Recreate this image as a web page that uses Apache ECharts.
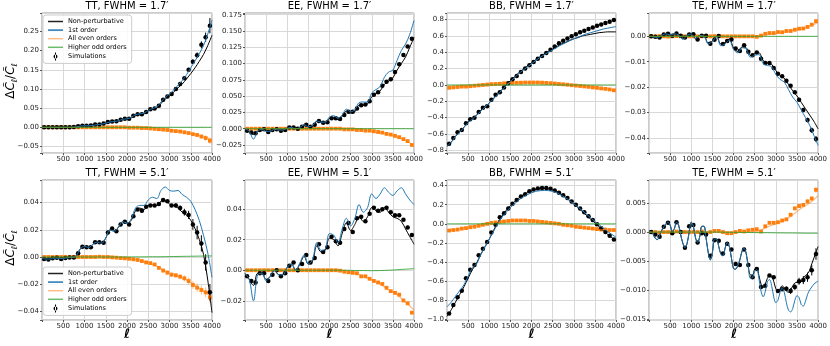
<!DOCTYPE html>
<html>
<head>
<meta charset="utf-8">
<script src="https://cdn.jsdelivr.net/npm/echarts@6/dist/echarts.min.js"></script>
<style>
  html, body { margin: 0; padding: 0; background: #fff; }
  #chart { width: 830px; height: 346px; }
</style>
</head>
<body>
<div id="chart"></div>
<script>
// multipoles
const ellLine = [0,100,200,300,400,500,600,700,800,900,1000,1100,1200,1300,1400,1500,1600,1700,1800,1900,2000,
  2100,2200,2300,2400,2500,2600,2700,2800,2900,3000,3100,3200,3300,3400,3500,3600,3700,3800,3900,4000];
const ellFine = [0,50,100,150,200,250,300,350,400,450,500,550,600,650,700,750,800,850,900,950,1000,
  1050,1100,1150,1200,1250,1300,1350,1400,1450,1500,1550,1600,1650,1700,1750,1800,1850,1900,1950,2000,
  2050,2100,2150,2200,2250,2300,2350,2400,2450,2500,2550,2600,2650,2700,2750,2800,2850,2900,2950,3000,
  3050,3100,3150,3200,3250,3300,3350,3400,3450,3500,3550,3600,3650,3700,3750,3800,3850,3900,3950,4000];
const ellCoarse = [0,200,400,600,800,1000,1200,1400,1600,1800,2000,2200,2400,2600,2800,3000,3200,3400,3600,3800,4000];
const ellBins = [50,150,250,350,450,550,650,750,850,950,1050,1150,1250,1350,1450,1550,1650,1750,1850,1950,
  2050,2150,2250,2350,2450,2550,2650,2750,2850,2950,3050,3150,3250,3350,3450,3550,3650,3750,3850,3950];

// TT, FWHM 1.7'
const tt17NonPert = [0,0,0,0,0,0,0,0,0.001,0.003,0.004,0.004,0.005,0.007,0.008,0.011,0.014,0.015,0.017,0.021,0.022,
  0.025,0.032,0.034,0.036,0.043,0.047,0.05,0.062,0.074,0.082,0.092,0.103,0.113,0.126,0.14,0.155,0.172,0.19,0.213,0.24];
const tt17First = [0,0,0,0,0,0,0,0,0.001,0.003,0.004,0.004,0.005,0.007,0.008,0.011,0.014,0.015,0.017,0.021,0.022,
  0.026,0.033,0.035,0.037,0.044,0.049,0.053,0.066,0.078,0.087,0.097,0.11,0.122,0.137,0.155,0.173,0.192,0.213,0.243,0.28];
const tt17Even = [0,0,0,0,0,0,0,0,0,0,-0.001,-0.001,-0.002,-0.003,-0.005,-0.007,-0.01,-0.013,-0.018,-0.024,-0.032];
const tt17Odd = [0,0,0,0,0,0,0,0,0,0,0,0,0,0,0,0,0,0,0,0,0];
const tt17Sim = [0,0,0,0,0,0,0,0.001,0.003,0.004,0.004,0.005,0.007,0.007,0.010,0.014,0.015,0.016,0.020,0.022,
  0.022,0.030,0.034,0.034,0.040,0.047,0.049,0.056,0.072,0.080,0.087,0.100,0.113,0.128,0.150,0.171,0.188,0.215,0.235,0.265];
const tt17SimErr = [0,0,0,0,0,0,0,0,0,0,0,0,0,0,0,0,0,0,0,0,
  0,0,0,0,0,0,0.001,0.001,0.002,0.002,0.002,0.003,0.003,0.004,0.005,0.006,0.007,0.009,0.012,0.02];
const tt17EvenSim = [0,0,0,0,0,0,0,0,0,0,0,0,0,0,0,0,0,0,0,0,
  -0.001,-0.001,-0.001,-0.002,-0.002,-0.003,-0.004,-0.005,-0.006,-0.007,-0.009,-0.01,-0.011,-0.013,-0.015,-0.018,-0.02,-0.024,-0.028,-0.035];
const tt17EvenSimErr = [0,0,0,0,0,0,0,0,0,0,0,0,0,0,0,0,0,0,0,0,
  0,0,0,0,0,0,0,0,0.001,0.001,0.0015,0.002,0.002,0.003,0.003,0.004,0.005,0.006,0.007,0.008];

// EE, FWHM 1.7'
const ee17NonPert = [0,-0.004,-0.009,-0.004,-0.001,-0.003,-0.004,-0.001,-0.002,-0.002,0.001,0.002,0,0.002,0.006,0.003,0.004,
  0.011,0.010,0.009,0.016,0.017,0.014,0.019,0.027,0.024,0.026,0.036,0.036,0.038,0.049,0.054,0.058,0.068,0.073,0.078,0.090,0.100,0.110,0.125,0.140];
const ee17First = [0,-0.004,-0.016,-0.004,-0.001,-0.004,-0.004,-0.001,-0.002,-0.002,0.001,0.002,0,0.002,0.006,0.003,0.005,
  0.012,0.010,0.010,0.018,0.020,0.016,0.021,0.030,0.026,0.029,0.040,0.041,0.041,0.055,0.060,0.065,0.079,0.087,0.090,0.105,0.120,0.130,0.145,0.166];
const ee17Even = [0,0,0,0,0,0,0,0,0,0,0,0,-0.001,-0.001,-0.002,-0.004,-0.006,-0.009,-0.013,-0.018,-0.026];
const ee17Odd = [0,0,0,0,0,0,0,0,0,0,0,0,0,0,0,0,0,0,0,0,0];
const ee17Sim = [-0.003,-0.006,-0.007,-0.002,-0.001,-0.005,-0.002,-0.001,-0.003,-0.002,0.002,0.002,0,0.003,0.006,0.003,0.006,0.012,0.009,0.010,
  0.016,0.016,0.015,0.021,0.026,0.026,0.031,0.036,0.037,0.042,0.052,0.056,0.066,0.072,0.076,0.087,0.099,0.113,0.126,0.138];
const ee17EvenSim = [0,0,0,0,0,0,0,0,0,0,0,0,0,0,0,0,0,0,0,0,0,0,0,
  -0.001,-0.001,-0.001,-0.002,-0.002,-0.003,-0.003,-0.004,-0.005,-0.006,-0.008,-0.009,-0.011,-0.013,-0.016,-0.019,-0.025];

// BB, FWHM 1.7'
const bb17NonPert = [-0.75,-0.70,-0.63,-0.57,-0.52,-0.45,-0.41,-0.37,-0.31,-0.27,-0.22,-0.16,-0.11,-0.06,0.00,0.05,0.10,0.15,0.19,0.23,0.27,
  0.31,0.345,0.38,0.41,0.44,0.47,0.50,0.52,0.545,0.565,0.58,0.60,0.61,0.62,0.63,0.64,0.645,0.65,0.65,0.65];
const bb17First = [-0.75,-0.70,-0.63,-0.58,-0.52,-0.46,-0.42,-0.37,-0.32,-0.27,-0.22,-0.17,-0.12,-0.06,-0.01,0.04,0.09,0.14,0.18,0.22,0.26,
  0.30,0.335,0.37,0.40,0.43,0.46,0.49,0.515,0.54,0.565,0.585,0.605,0.625,0.64,0.655,0.67,0.685,0.695,0.705,0.715];
const bb17Even = [-0.04,-0.03,-0.02,-0.012,-0.002,0.008,0.015,0.02,0.025,0.028,0.03,0.028,0.024,0.016,0.006,-0.004,-0.015,-0.027,-0.04,-0.052,-0.068];
const bb17Odd = [0,0,0,0,0,0,0,0,0,0,0,0,0,0,0,0,0,0,0,0,0];
const bb17Sim = [-0.72,-0.65,-0.58,-0.55,-0.47,-0.42,-0.40,-0.33,-0.28,-0.26,-0.18,-0.12,-0.09,-0.03,0.02,0.07,0.11,0.16,0.20,0.24,
  0.28,0.32,0.355,0.39,0.43,0.47,0.51,0.54,0.57,0.595,0.62,0.645,0.665,0.685,0.705,0.725,0.74,0.76,0.775,0.795];
const bb17EvenSim = [-0.035,-0.03,-0.025,-0.02,-0.02,-0.015,-0.01,-0.005,0,0.005,0.01,0.012,0.015,0.02,0.022,0.025,0.027,0.028,0.03,0.03,
  0.03,0.03,0.028,0.025,0.022,0.018,0.012,0.008,0.003,-0.003,-0.008,-0.013,-0.018,-0.023,-0.03,-0.035,-0.042,-0.048,-0.055,-0.065];

// TE, FWHM 1.7'
const te17NonPert = [0,-0.0002,-0.0006,0.0004,0.001,0.0005,0.001,0.0006,-0.0008,0.0004,0.0009,-0.0008,0.0003,0.0002,-0.0025,-0.0018,0,
  -0.003,-0.0025,-0.001,-0.0045,-0.006,-0.0042,-0.0045,-0.0075,-0.0068,-0.0065,-0.0095,-0.0105,-0.011,-0.0135,-0.0155,-0.0165,-0.019,
  -0.0215,-0.0235,-0.026,-0.0285,-0.031,-0.0335,-0.0365];
const te17First = [0,-0.0002,-0.0006,0.0004,0.001,0.0005,0.001,0.0005,-0.0012,0.0004,0.0009,-0.001,0.0003,0.0001,-0.003,-0.002,-0.0002,
  -0.0037,-0.003,-0.0015,-0.0052,-0.0065,-0.0045,-0.005,-0.0082,-0.0075,-0.0072,-0.0108,-0.0115,-0.012,-0.015,-0.017,-0.018,-0.021,
  -0.024,-0.026,-0.029,-0.032,-0.035,-0.039,-0.043];
const te17Even = [0,0,0,0,0,0,0,0,0,0,0,0,0,0.0002,0.0008,0.0012,0.0017,0.0023,0.003,0.004,0.0055];
const te17Odd = [0,0,0,0,0,0,0,0,0,0,0,0,0,0,0,0,0,0,0,0,0];
const te17Sim = [0,-0.0002,-0.0005,0.0007,0.001,0.0002,0.0011,0.0002,-0.0005,0.0007,0.0008,-0.0012,0.0002,0.0002,-0.0029,-0.0013,0.0001,
  -0.003,-0.0018,-0.0012,-0.0048,-0.0058,-0.0035,-0.0061,-0.0075,-0.0064,-0.0088,-0.0105,-0.0105,-0.0125,-0.0148,-0.0157,-0.0175,
  -0.0195,-0.022,-0.025,-0.029,-0.033,-0.037,-0.0405];
const te17SimErr = [0,0,0,0,0,0,0,0,0,0,0,0,0,0,0,0,0,0,0,0,
  0,0,0,0,0,0,0,0,0,0,0,0,0,0,0.0005,0.0006,0.0008,0.0009,0.001,0.0012];
const te17EvenSim = [0,0,0.0001,0,-0.0001,0,0.0001,0,0,0,0,0,0,0,0,0.0001,0,0,0,0,0,0,0,0,0,-0.0002,
  0.0003,0.001,0.0013,0.0013,0.0017,0.0016,0.0021,0.0021,0.0026,0.003,0.0031,0.0037,0.0046,0.006];

// TT, FWHM 5.1'
const tt51NonPert = [-0.001,-0.0015,-0.0015,-0.0008,-0.001,-0.0012,-0.0005,-0.0003,0.0005,0.006,0.0078,0.007,0.0095,0.011,0.010,0.014,
  0.020,0.019,0.022,0.026,0.025,0.027,0.034,0.036,0.035,0.038,0.0385,0.038,0.041,0.0415,0.039,0.038,0.036,0.033,0.031,0.027,0.021,
  0.013,0.002,-0.017,-0.041];
const tt51First = [-0.001,-0.0015,-0.0015,-0.0008,-0.001,-0.0012,-0.0005,-0.0003,0.0005,0.006,0.0078,0.007,0.0095,0.011,0.010,0.014,
  0.020,0.019,0.022,0.026,0.025,0.028,0.036,0.038,0.038,0.042,0.044,0.043,0.049,0.0515,0.049,0.0485,0.049,0.046,0.044,0.041,0.035,
  0.027,0.016,0.003,-0.015];
const tt51Even = [0,0,0,0,0,0,0,0,0,-0.0005,-0.0012,-0.002,-0.0035,-0.0055,-0.0085,-0.012,-0.014,-0.017,-0.021,-0.025,-0.03];
const tt51Odd = [0,0,0,0,0,0,0,0,0,0,0,0.0001,0.0001,0.0002,0.0002,0.0003,0.0004,0.0005,0.0006,0.0007,0.0008];
const tt51Sim = [-0.0015,-0.0018,-0.001,-0.0005,-0.0015,-0.0008,-0.0004,-0.0003,0.0028,0.0075,0.0072,0.0072,0.0108,0.0108,0.0105,0.018,
  0.021,0.019,0.024,0.026,0.024,0.030,0.035,0.034,0.037,0.038,0.038,0.039,0.042,0.041,0.038,0.038,0.036,0.033,0.031,0.024,0.018,
  0.010,-0.004,-0.026];
const tt51SimErr = [0,0,0,0,0,0,0,0,0,0,0,0,0,0,0,0,0,0,0,0,
  0,0,0,0,0,0,0,0,0,0,0.001,0.0015,0.002,0.0025,0.003,0.004,0.005,0.006,0.006,0.006];
const tt51EvenSim = [0,0,0,0,0,0,0,0,0,0,0,0,0,0.0002,0,0,-0.0003,-0.0005,-0.0008,-0.001,-0.0013,-0.0017,-0.0022,-0.003,-0.004,
  -0.0045,-0.0055,-0.008,-0.01,-0.0115,-0.013,-0.0135,-0.0145,-0.0157,-0.0177,-0.0206,-0.0226,-0.0243,-0.026,-0.0297];
const tt51EvenSimErr = [0,0,0,0,0,0,0,0,0,0,0,0,0,0,0,0,0,0,0,0,0,0,0,0,
  0.0008,0.001,0.001,0.0012,0.0013,0.0015,0.0016,0.0018,0.002,0.0022,0.0025,0.0028,0.003,0.0033,0.0036,0.004];

// EE, FWHM 5.1'
const ee51NonPert = [-0.002,-0.006,-0.010,-0.002,-0.002,-0.006,-0.004,0,-0.003,-0.003,0.002,0.004,0,0.004,0.009,0.004,0.006,0.016,
  0.012,0.013,0.021,0.020,0.016,0.024,0.031,0.026,0.030,0.035,0.032,0.035,0.041,0.039,0.038,0.041,0.038,0.035,0.034,0.032,0.027,0.022,0.017];
const ee51First = [-0.002,-0.006,-0.020,-0.003,-0.002,-0.007,-0.004,0,-0.003,-0.003,0.002,0.004,0,0.005,0.010,0.004,0.007,0.018,
  0.013,0.014,0.024,0.023,0.018,0.027,0.034,0.029,0.034,0.043,0.038,0.041,0.050,0.047,0.050,0.054,0.051,0.049,0.052,0.054,0.050,0.046,0.043];
const ee51Even = [0,0,0,0,0,0,0,0,0,0,0,0,-0.001,-0.002,-0.004,-0.0065,-0.009,-0.013,-0.016,-0.021,-0.026];
const ee51Odd = [0,0,0,0,0,0,0,0,0,0,0,0,0,-0.0002,-0.0002,-0.0003,-0.0002,0,0.0003,0.0007,0.001];
const ee51Sim = [-0.004,-0.007,-0.008,-0.002,-0.002,-0.007,-0.003,0,-0.004,-0.002,0.003,0.005,0,0.004,0.010,0.005,0.008,0.017,0.012,0.015,
  0.022,0.019,0.018,0.027,0.031,0.025,0.034,0.035,0.032,0.037,0.041,0.039,0.040,0.041,0.038,0.036,0.036,0.033,0.028,0.023];
const ee51SimErr = [0,0,0,0,0,0,0,0,0,0,0,0,0,0,0,0,0,0,0,0,
  0,0,0,0,0,0,0,0,0,0,0.0005,0.0005,0.0006,0.0006,0.0007,0.0008,0.0008,0.0009,0.001,0.0012];
const ee51EvenSim = [0,0,0,0,0,0,0,0,0,0,0,0,0,0,0,0,0,0,0,0,0,0,
  -0.0003,-0.001,-0.0013,-0.0017,-0.002,-0.004,-0.004,-0.0056,-0.007,-0.008,-0.009,-0.0115,-0.0137,-0.0148,-0.016,-0.0198,-0.0217,-0.0278];

// BB, FWHM 5.1'
const bb51NonPert = [-0.97,-0.90,-0.82,-0.74,-0.66,-0.57,-0.48,-0.41,-0.32,-0.24,-0.16,-0.07,0.01,0.08,0.14,0.19,0.235,0.27,0.30,0.325,
  0.345,0.36,0.368,0.37,0.366,0.355,0.335,0.31,0.28,0.245,0.21,0.17,0.13,0.09,0.05,0.01,-0.03,-0.07,-0.11,-0.145,-0.18];
const bb51First = [-0.87,-0.82,-0.76,-0.70,-0.64,-0.55,-0.46,-0.42,-0.32,-0.24,-0.16,-0.08,0.0,0.07,0.12,0.17,0.21,0.25,0.28,0.305,
  0.325,0.34,0.347,0.35,0.348,0.34,0.325,0.30,0.275,0.245,0.21,0.175,0.14,0.10,0.065,0.025,-0.01,-0.045,-0.08,-0.11,-0.14];
const bb51Even = [-0.075,-0.06,-0.045,-0.03,-0.015,0.005,0.018,0.027,0.033,0.033,0.03,0.022,0.012,0.0,-0.015,-0.028,-0.04,-0.05,-0.058,-0.062,-0.065];
const bb51Odd = [0,0,0,0,0,0,0,0,0,0,0,0,0,0,0,0,0,0,0,0,0];
const bb51Sim = [-0.94,-0.85,-0.77,-0.70,-0.57,-0.48,-0.43,-0.33,-0.26,-0.19,-0.09,-0.01,0.07,0.11,0.16,0.21,0.25,0.285,0.31,0.34,
  0.36,0.37,0.375,0.375,0.368,0.35,0.325,0.30,0.27,0.235,0.20,0.16,0.12,0.08,0.04,-0.005,-0.045,-0.085,-0.125,-0.165];
const bb51EvenSim = [-0.07,-0.065,-0.06,-0.05,-0.045,-0.035,-0.03,-0.02,-0.01,0,0.01,0.015,0.02,0.025,0.03,0.035,0.035,0.035,0.035,0.03,
  0.03,0.025,0.02,0.015,0.01,0.005,0,-0.01,-0.015,-0.02,-0.03,-0.035,-0.04,-0.045,-0.05,-0.055,-0.06,-0.06,-0.065,-0.065];

// TE, FWHM 5.1' (lines on the finer grid)
const te51NonPert = [0,0,-0.0004,-0.0011,-0.0013,-0.0006,0.0003,0.0009,0.0014,0.0017,0.0012,0.0001,0.0006,0.0017,0.0012,-0.0005,
  -0.0019,-0.0027,-0.002,0,0.0017,0.001,-0.001,-0.0018,-0.0008,0.001,0.001,-0.001,-0.0035,-0.0048,-0.0035,-0.0012,-0.0012,-0.0025,
  -0.0038,-0.0041,-0.0028,-0.0018,-0.0025,-0.0045,-0.0063,-0.0064,-0.0058,-0.0048,-0.0033,-0.0028,
  -0.0037,-0.006,-0.0074,-0.0074,-0.0064,-0.0062,-0.0075,-0.009,-0.0096,-0.009,-0.008,-0.0075,-0.0076,-0.0085,-0.0098,-0.0103,
  -0.0098,-0.0093,-0.0096,-0.0102,-0.0104,-0.01,-0.0093,-0.0088,-0.0087,-0.0088,-0.0086,-0.008,-0.0075,-0.0072,-0.0066,-0.0055,
  -0.0045,-0.0035,-0.0025];
const te51First = [0,0,-0.0004,-0.0011,-0.0013,-0.0006,0.0003,0.0009,0.0014,0.0017,0.0012,0.0001,0.0006,0.0017,0.0012,-0.0005,
  -0.0019,-0.0027,-0.002,0,0.0017,0.001,-0.001,-0.0018,-0.0008,0.001,0.001,-0.001,-0.0035,-0.0048,-0.0035,-0.0012,-0.0012,-0.0025,
  -0.0038,-0.0041,-0.0028,-0.0018,-0.0025,-0.0045,-0.0063,-0.0064,-0.0058,-0.0048,-0.0033,-0.0028,
  -0.0038,-0.0062,-0.008,-0.0079,-0.0068,-0.0065,-0.008,-0.0102,-0.0112,-0.0103,-0.0086,-0.0082,-0.0092,-0.0112,-0.0122,-0.0118,
  -0.0104,-0.0097,-0.0104,-0.0122,-0.0135,-0.0138,-0.0132,-0.0118,-0.011,-0.0113,-0.0125,-0.0128,-0.012,-0.0108,-0.01,-0.0095,
  -0.009,-0.0087,-0.0085];
const te51Even = [0,0,0,0,0,0,0,0,0,0,0,0,0,0.0002,0.0009,0.0014,0.002,0.003,0.0041,0.005,0.0063];
const te51Odd = [0,0,0,0,0,0,0,0,0,-0.00003,-0.00005,-0.00006,-0.00008,-0.0001,-0.00011,-0.00013,-0.00015,-0.00016,-0.00018,-0.0002,-0.0002];
const te51Sim = [0,-0.0004,-0.0008,0.0009,0.0016,-0.0002,0.0017,0,-0.0027,0.001,0.0012,-0.0018,-0.0002,-0.0004,-0.0041,-0.0014,-0.0015,
  -0.0037,-0.002,-0.003,-0.0055,-0.0057,-0.003,-0.0057,-0.0078,-0.0064,-0.0095,-0.0093,-0.0075,-0.0078,-0.0102,-0.0099,-0.0098,
  -0.0102,-0.0095,-0.0085,-0.0083,-0.0078,-0.0066,-0.0038];
const te51SimErr = [0,0,0,0,0,0,0,0,0,0,0,0,0,0,0,0,0,0,0,0,
  0,0,0,0,0,0,0,0,0,0,0,0,0.0004,0.0005,0.0005,0.0006,0.0007,0.0008,0.0009,0.001];
const te51EvenSim = [0,0,-0.0001,0,0,0,0.0001,0,0,0,0,0,0.0001,-0.0002,0,0.0002,0.0002,0,-0.0002,-0.0002,0,0.0002,0.0001,0.0003,
  0.0004,0.0005,0.0001,0.001,0.0016,0.0016,0.0017,0.002,0.0022,0.003,0.0041,0.0045,0.0047,0.0053,0.0058,0.0073];
const te51EvenSimErr = [0,0,0,0,0,0,0,0,0,0,0,0,0,0,0,0,0,0,0,0,
  0,0,0,0,0,0,0,0,0,0,0,0,0,0.0002,0.0003,0.0003,0.0003,0.0004,0.0004,0.0005];

const titles = ['TT, FWHM = 1.7\u2032', 'EE, FWHM = 1.7\u2032', 'BB, FWHM = 1.7\u2032', 'TE, FWHM = 1.7\u2032',
  'TT, FWHM = 5.1\u2032', 'EE, FWHM = 5.1\u2032', 'BB, FWHM = 5.1\u2032', 'TE, FWHM = 5.1\u2032'];
const seriesNames = ['Non-perturbative', '1st order', 'All even orders', 'Higher odd orders', 'Simulations'];

const colLeft = [42, 245, 447, 649];
const colWidth = [170, 169, 169, 170];
const rowTop = [13, 180];
const plotHeight = 140;

const panels = [
  {min: -0.067, max: 0.298, step: 0.05, dec: 2, lines: ellLine, nonPert: tt17NonPert, first: tt17First, even: tt17Even, odd: tt17Odd,
   sim: tt17Sim, simErr: tt17SimErr, evenSim: tt17EvenSim, evenSimErr: tt17EvenSimErr},
  {min: -0.0373, max: 0.1776, step: 0.025, dec: 3, lines: ellLine, nonPert: ee17NonPert, first: ee17First, even: ee17Even, odd: ee17Odd,
   sim: ee17Sim, simErr: null, evenSim: ee17EvenSim, evenSimErr: null},
  {min: -0.833, max: 0.881, step: 0.2, dec: 1, lines: ellLine, nonPert: bb17NonPert, first: bb17First, even: bb17Even, odd: bb17Odd,
   sim: bb17Sim, simErr: null, evenSim: bb17EvenSim, evenSimErr: null},
  {min: -0.046, max: 0.0092, step: 0.01, dec: 2, lines: ellLine, nonPert: te17NonPert, first: te17First, even: te17Even, odd: te17Odd,
   sim: te17Sim, simErr: te17SimErr, evenSim: te17EvenSim, evenSimErr: null},
  {min: -0.0464, max: 0.0567, step: 0.02, dec: 2, lines: ellLine, nonPert: tt51NonPert, first: tt51First, even: tt51Even, odd: tt51Odd,
   sim: tt51Sim, simErr: tt51SimErr, evenSim: tt51EvenSim, evenSimErr: tt51EvenSimErr},
  {min: -0.0326, max: 0.0591, step: 0.02, dec: 2, lines: ellLine, nonPert: ee51NonPert, first: ee51First, even: ee51Even, odd: ee51Odd,
   sim: ee51Sim, simErr: ee51SimErr, evenSim: ee51EvenSim, evenSimErr: null},
  {min: -1.007, max: 0.459, step: 0.2, dec: 1, lines: ellLine, nonPert: bb51NonPert, first: bb51First, even: bb51Even, odd: bb51Odd,
   sim: bb51Sim, simErr: null, evenSim: bb51EvenSim, evenSimErr: null},
  {min: -0.0152, max: 0.0090, step: 0.005, dec: 3, lines: ellFine, nonPert: te51NonPert, first: te51First, even: te51Even, odd: te51Odd,
   sim: te51Sim, simErr: te51SimErr, evenSim: te51EvenSim, evenSimErr: te51EvenSimErr}
];

const pair = (xs, ys) => xs.map((x, i) => [x, ys[i]]);
const triple = (xs, ys, es) => xs.map((x, i) => [x, ys[i], es ? es[i] : 0]);

function errBars(color) {
  return function (params, api) {
    const x = api.value(0), y = api.value(1), e = api.value(2);
    if (!e) return null;
    const a = api.coord([x, y - e]);
    const b = api.coord([x, y + e]);
    return {type: 'line', shape: {x1: a[0], y1: a[1], x2: b[0], y2: b[1]},
            style: {stroke: color, lineWidth: 1}};
  };
}

const grids = [], xAxes = [], yAxes = [], series = [], graphics = [];

panels.forEach((p, i) => {
  const col = i % 4, row = Math.floor(i / 4);
  grids.push({left: colLeft[col], top: rowTop[row], width: colWidth[col], height: plotHeight,
              show: true, borderColor: '#999', borderWidth: 1, backgroundColor: 'transparent'});
  xAxes.push({
    type: 'value', gridIndex: i, min: 0, max: 4000, interval: 500,
    axisLine: {show: false, onZero: false},
    axisTick: {show: true, length: 2, lineStyle: {color: '#555'}},
    axisLabel: {fontSize: 7, color: '#222', margin: 3, formatter: v => (v === 0 ? '' : String(v))},
    splitLine: {show: true, lineStyle: {color: '#d8d8d8', width: 1}}
  });
  yAxes.push({
    type: 'value', gridIndex: i, min: p.min, max: p.max, minInterval: p.step, maxInterval: p.step,
    axisLine: {show: false, onZero: false},
    axisTick: {show: true, length: 2, lineStyle: {color: '#555'}},
    axisLabel: {fontSize: 7, color: '#222', margin: 3, showMinLabel: true, showMaxLabel: true,
      formatter: v => {
        const k = v / p.step;
        if (Math.abs(k - Math.round(k)) > 1e-6) return '';
        return (Math.round(k) * p.step).toFixed(p.dec).replace('-', '\u2212');
      }},
    splitLine: {show: true, lineStyle: {color: '#d8d8d8', width: 1}}
  });

  const ax = {xAxisIndex: i, yAxisIndex: i};
  series.push({type: 'line', name: seriesNames[0], ...ax, data: pair(p.lines, p.nonPert), showSymbol: false, smooth: 0.35,
               lineStyle: {color: '#000', width: 1}, itemStyle: {color: '#000'}});
  series.push({type: 'line', name: seriesNames[1], ...ax, data: pair(p.lines, p.first), showSymbol: false, smooth: 0.35,
               lineStyle: {color: '#1f77b4', width: 1}, itemStyle: {color: '#1f77b4'}});
  series.push({type: 'line', name: seriesNames[2], ...ax, data: pair(ellCoarse, p.even), showSymbol: false, smooth: 0.35,
               lineStyle: {color: '#ff7f0e', width: 1.2, opacity: 0.55}, itemStyle: {color: '#ff7f0e'}});
  series.push({type: 'line', name: seriesNames[3], ...ax, data: pair(ellCoarse, p.odd), showSymbol: false, smooth: 0.35,
               lineStyle: {color: '#2ca02c', width: 1, opacity: 0.85}, itemStyle: {color: '#2ca02c'}});
  series.push({type: 'custom', name: 'even-err', ...ax, data: triple(ellBins, p.evenSim, p.evenSimErr),
               encode: {x: 0, y: 1}, renderItem: errBars('rgba(255,127,14,0.55)')});
  series.push({type: 'scatter', name: 'even-sims', ...ax, data: pair(ellBins, p.evenSim), symbol: 'rect', symbolSize: 3.8,
               itemStyle: {color: '#ff7f0e', opacity: 1}});
  series.push({type: 'custom', name: 'sim-err', ...ax, data: triple(ellBins, p.sim, p.simErr),
               encode: {x: 0, y: 1}, renderItem: errBars('#000')});
  series.push({type: 'scatter', name: seriesNames[4], ...ax, data: pair(ellBins, p.sim), symbol: 'circle', symbolSize: 4.5,
               itemStyle: {color: '#000', opacity: 1}});

  const cx = colLeft[col] + colWidth[col] / 2;
  graphics.push({type: 'text', x: cx, y: row === 0 ? 6.5 : 173,
    style: {text: titles[i], fontSize: 10, fontFamily: 'DejaVu Sans', fill: '#000', align: 'center', verticalAlign: 'middle',
            textAlign: 'center', textVerticalAlign: 'middle'}});
  if (row === 1) {
    graphics.push({type: 'text', x: cx, y: 335,
      style: {text: '\u2113', fontSize: 13, fontStyle: 'italic', fontWeight: 'bold', fontFamily: 'DejaVu Sans', fill: '#000',
              align: 'center', verticalAlign: 'middle', textAlign: 'center', textVerticalAlign: 'middle'}});
  }
});

// y-axis title on the left column
[81, 248].forEach(cy => {
  graphics.push({type: 'text', x: 11, y: cy, rotation: Math.PI / 2,
    style: {text: '{m|\u0394}{c|C\u0303}{s|\u2113}{m|/}{c|C\u0303}{s|\u2113}', align: 'center', verticalAlign: 'middle',
      textAlign: 'center', textVerticalAlign: 'middle', fill: '#000',
      rich: {
        m: {fontSize: 12, fontFamily: 'DejaVu Sans', lineHeight: 16, verticalAlign: 'middle'},
        c: {fontSize: 12, fontFamily: 'DejaVu Sans', fontStyle: 'italic', lineHeight: 16, verticalAlign: 'middle'},
        s: {fontSize: 8, fontFamily: 'DejaVu Sans', fontStyle: 'italic', lineHeight: 8, verticalAlign: 'bottom'}
      }}});
});

const lineIcon = 'path://M0,0H15V1.5H0Z';
const simIcon = 'path://M3.5,0H4.5V8H3.5Z M2,4A2,2,0,1,0,6,4A2,2,0,1,0,2,4Z';
const legendData = [
  {name: seriesNames[0], icon: lineIcon, itemStyle: {color: '#222', opacity: 1}},
  {name: seriesNames[1], icon: lineIcon, itemStyle: {color: '#1f77b4', opacity: 1}},
  {name: seriesNames[2], icon: lineIcon, itemStyle: {color: 'rgba(255,127,14,0.5)', opacity: 1}},
  {name: seriesNames[3], icon: lineIcon, itemStyle: {color: 'rgba(44,160,44,0.7)', opacity: 1}},
  {name: seriesNames[4], icon: simIcon, itemStyle: {color: '#000', opacity: 1}}
];
const legendBase = {
  orient: 'vertical', data: legendData, itemWidth: 15, itemHeight: 8, itemGap: 1.6, padding: [3, 5],
  backgroundColor: 'rgba(255,255,255,0.85)', borderColor: '#ccc', borderWidth: 1, borderRadius: 3,
  textStyle: {fontSize: 6.5, fontFamily: 'DejaVu Sans', color: '#000'},
  selectedMode: false, symbolKeepAspect: true
};

const chart = echarts.init(document.getElementById('chart'), null, {renderer: 'canvas'});
chart.setOption({
  animation: false,
  backgroundColor: '#fff',
  textStyle: {fontFamily: 'DejaVu Sans'},
  grid: grids,
  xAxis: xAxes,
  yAxis: yAxes,
  legend: [
    Object.assign({left: 43, top: 15}, legendBase),
    Object.assign({left: 43, top: 267}, legendBase)
  ],
  series: series,
  graphic: graphics
});
</script>
</body>
</html>
